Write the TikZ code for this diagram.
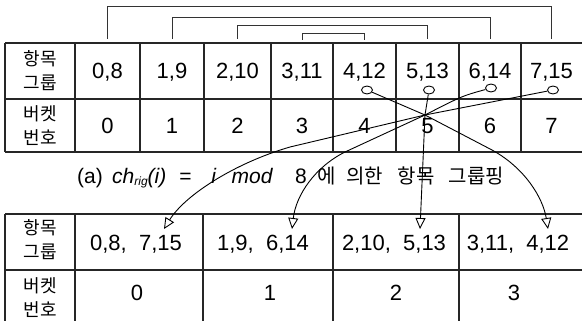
\documentclass[tikz,border=0pt]{standalone}
\usepackage{fontspec}
\setmainfont{Liberation Sans}
\newfontfamily\kr{Noto Sans CJK KR}
\usetikzlibrary{arrows.meta,shapes.geometric}
\begin{document}
\begin{tikzpicture}[x=1pt,y=-1pt,
  grid/.style={line width=1.1pt,black!85},
  brk/.style={line width=0.9pt,black!80},
  lab/.style={font=\kr\fontsize{18}{24}\selectfont,align=center,inner sep=0},
  num/.style={font=\fontsize{22}{26}\selectfont,inner sep=0,anchor=base},
  hole/.style={ellipse,draw,line width=0.9pt,fill=white,minimum width=11pt,minimum height=8pt,inner sep=0},
  link/.style={line width=0.9pt,-{Triangle[open,length=11pt,width=10pt]}}]
\useasboundingbox (0,0) rectangle (582,321);
% top table grid
\draw[grid] (5,43) -- (582,43) (5,99) -- (582,99) (5,152) -- (582,152);
\foreach \x in {5,75,140,204,271,333,396,459,521} \draw[grid] (\x,43) -- (\x,152);
% bottom table grid
\draw[grid] (5,214) -- (582,214) (5,270) -- (582,270);
\foreach \x in {5,75,203,333,459} \draw[grid] (\x,214) -- (\x,321);
% top table texts
\node[lab] (lg) at (40,71) {항목\\그룹};
\node[lab] (lb) at (40,125.5) {버켓\\번호};
\node[num] (g0) at (107.5,79) {0,8};
\node[num] (g1) at (172,79) {1,9};
\node[num] (g2) at (237.5,79) {2,10};
\node[num] (g3) at (302,79) {3,11};
\node[num] (g4) at (364.5,79) {4,12};
\node[num] (g5) at (427.5,79) {5,13};
\node[num] (g6) at (490,79) {6,14};
\node[num] (g7) at (551.5,79) {7,15};
\foreach \i/\x in {0/107.5,1/172,2/237.5,3/302,4/364.5,5/427.5,6/490,7/551.5}
  \node[num] (n\i) at (\x,133.5) {\i};
% brackets
\draw[brk] (g0 |- 0,39) |- (g7 |- 0,6) -- (g7 |- 0,39);
\draw[brk] (g1 |- 0,39) |- (g6 |- 0,17) -- (g6 |- 0,39);
\draw[brk] (g2 |- 0,39) |- (g5 |- 0,25) -- (g5 |- 0,39);
\draw[brk] (g3 |- 0,40) |- (g4 |- 0,33) -- (g4 |- 0,40);
% caption
\node[anchor=base west,inner sep=0,font=\fontsize{21}{25}\selectfont] (cap) at (77,183)
 {(a)\hspace{9.3pt}\textit{ch}\raisebox{-2.5pt}{\fontsize{12}{12}\selectfont\textit{rig}}\textit{(i)}\hspace{13pt}=\hspace{19.7pt}\textit{i}\hspace{15.3pt}\textit{mod}\hspace{22pt}8\hspace{11pt}{\kr\fontsize{20}{24}\selectfont 에\hspace{10pt}의한\hspace{15pt}항목\hspace{14pt}그룹핑}};
% bottom table texts
\node[lab] (lg2) at (40,240) {항목\\그룹};
\node[lab] (lb2) at (40,298) {버켓\\번호};
\node[num] (m0) at (136,250) {0,8,\ \ 7,15};
\node[num] (m1) at (263,250) {1,9,\ \ 6,14};
\node[num] (m2) at (394,250) {2,10,\ \ 5,13};
\node[num] (m3) at (518,250) {3,11,\ \ 4,12};
\node[num] (k0) at (137,300) {0};
\node[num] (k1) at (270,300) {1};
\node[num] (k2) at (396,300) {2};
\node[num] (k3) at (514,300) {3};
% holes
\node[hole] (h4) at (367,90) {};
\node[hole] (h5) at (429,90) {};
\node[hole] (h6) at (491,88) {};
\node[hole] (h7) at (553,90) {};
\coordinate (X) at (425,115);
\coordinate (t0) at (164,229);
\coordinate (t1) at (292,229);
\coordinate (t2) at (420,229);
\coordinate (t3) at (548,229);
% links
\draw[link] (h7) -- (X) -- (290,147) .. controls (235,163) and (185,195) .. (t0);
\draw[link] (h6) .. controls (462,96) .. (X) -- (345,152) .. controls (315,167) and (296,195) .. (t1);
\draw[link] (h5) -- (X) -- (t2);
\draw[link] (h4) -- (X) -- (492,150) .. controls (525,168) and (543,198) .. (t3);
\end{tikzpicture}
\end{document}
